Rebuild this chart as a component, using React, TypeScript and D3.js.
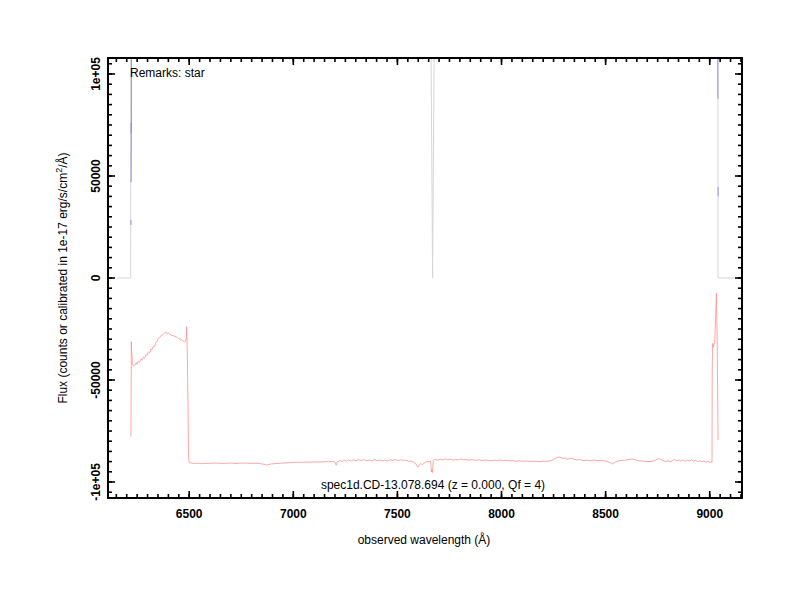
import React, { useRef, useEffect } from 'react';
import * as d3 from 'd3';

type Pt = [number, number | null];

// red: flux spectrum (calibrated)
const redSeries: Pt[] = [
  [6220, -77800], [6221, -60600], [6222, -31200], [6224, -36000], [6227, -42000],
  [6232, -43000], [6240, -42600], [6246, -41500], [6250, -42300], [6256, -40800],
  [6262, -41200], [6268, -39800], [6274, -40300], [6280, -38800], [6286, -39400],
  [6292, -37600], [6298, -37900], [6304, -36200], [6310, -36700], [6316, -34800],
  [6322, -35100], [6328, -33400], [6334, -33600], [6340, -31500], [6346, -31000],
  [6352, -29600], [6358, -29200], [6364, -28300], [6370, -28000], [6376, -27400],
  [6382, -26900], [6388, -26600], [6394, -27200], [6400, -27000], [6406, -27600],
  [6412, -27900], [6418, -28300], [6424, -28100], [6430, -28800], [6436, -28700],
  [6442, -29300], [6448, -29500], [6454, -30000], [6460, -29800], [6466, -30600],
  [6472, -30900], [6478, -31200], [6482, -31000], [6486, -29500], [6488, -23900],
  [6490, -33000], [6491, -37700], [6494, -60000], [6497, -88000], [6500, -90500],
  [6505, -90600], [6520, -90900], [6540, -90800], [6560, -91000], [6580, -90900],
  [6600, -90800], [6620, -90700], [6640, -90800], [6660, -90900], [6680, -90800],
  [6700, -90700], [6720, -90900], [6740, -90800], [6760, -90700], [6780, -90800],
  [6800, -90900], [6820, -90800], [6840, -91000], [6860, -91300], [6875, -91700],
  [6890, -91200], [6910, -91000], [6930, -90900], [6950, -90700], [6970, -90600],
  [6990, -90500], [7010, -90400], [7030, -90300], [7050, -90400], [7070, -90200],
  [7090, -90300], [7110, -90100], [7130, -90200], [7150, -90000], [7170, -90100],
  [7190, -89900], [7200, -90300], [7206, -91800], [7212, -90000], [7225, -89500],
  [7235, -89900], [7245, -89300], [7255, -89800], [7265, -89200], [7278, -89700],
  [7290, -89100], [7302, -89600], [7315, -89000], [7328, -89500], [7340, -89100],
  [7352, -89600], [7365, -89200], [7378, -89700], [7390, -89000], [7402, -89500],
  [7415, -89200], [7428, -89600], [7440, -89300], [7452, -89700], [7465, -89100],
  [7478, -89400], [7490, -89000], [7502, -89500], [7515, -89100], [7528, -89400],
  [7540, -89300], [7555, -89800], [7568, -89900], [7580, -90300], [7590, -91400],
  [7598, -92700], [7604, -92000], [7612, -90900], [7620, -91500], [7628, -90800],
  [7636, -90300], [7644, -90000], [7652, -90100], [7660, -89800], [7663, -95100],
  [7666, -94000], [7669, -95300], [7672, -89400], [7680, -88900], [7692, -89300],
  [7705, -88800], [7718, -89200], [7730, -88700], [7742, -89100], [7755, -88800],
  [7768, -89300], [7780, -88900], [7792, -89200], [7805, -88700], [7818, -89100],
  [7830, -89000], [7845, -89300], [7860, -89000], [7875, -89400], [7890, -89100],
  [7905, -89500], [7920, -89200], [7935, -89400], [7950, -89600], [7965, -89300],
  [7980, -89500], [7995, -89200], [8010, -89600], [8025, -89400], [8040, -89700],
  [8055, -89500], [8070, -89800], [8088, -89600], [8105, -89900], [8120, -89700],
  [8140, -89900], [8160, -89800], [8180, -90000], [8200, -89800], [8220, -89900],
  [8240, -89500], [8255, -88600], [8268, -88000], [8280, -87700], [8292, -88400],
  [8305, -88200], [8318, -88900], [8332, -88300], [8345, -88700], [8360, -89200],
  [8376, -89000], [8392, -89500], [8410, -89300], [8428, -89600], [8445, -89200],
  [8462, -89500], [8480, -89400], [8500, -89800], [8520, -90400], [8534, -91200],
  [8548, -90100], [8565, -89600], [8582, -89400], [8600, -89200], [8618, -88900],
  [8630, -88700], [8645, -89200], [8660, -89600], [8680, -89800], [8700, -90000],
  [8718, -89900], [8735, -89500], [8748, -88800], [8760, -88700], [8772, -89300],
  [8785, -89900], [8800, -89600], [8812, -90100], [8822, -89400], [8832, -88900],
  [8842, -89600], [8852, -89100], [8862, -89800], [8872, -89200], [8882, -89900],
  [8892, -89300], [8902, -89700], [8912, -89100], [8922, -89800], [8932, -89400],
  [8942, -90000], [8952, -89500], [8962, -90100], [8972, -89700], [8982, -90300],
  [8992, -89900], [9002, -90400], [9008, -90100], [9011, -90300], [9012, -45000],
  [9014, -32000], [9017, -34000], [9020, -32800], [9024, -31500], [9028, -20000],
  [9032, -7500], [9036, -31200], [9040, -79400],
];

// blue: raw counts, mostly off the top of the panel
const blueSeries: Pt[] = [
  [6220.2, 26000], [6220.4, 28500], [6220.6, null],
  [6221.0, 47000], [6221.4, 62000], [6221.8, 76000], [6222.2, 71000], [6222.8, 180000],
  [9038.0, 180000], [9039.0, 100500], [9039.4, 88000], [9039.6, null],
  [9040.0, 44500], [9040.3, 40000],
];

// grey: sky / variance, clipped at the top
const greySeries: Pt[] = [
  [6153, 0], [6219, 0], [6221, 350000], [7659, 350000], [7661, 120000],
  [7669, 0], [7677, 120000], [7679, 350000], [9038, 350000], [9040, 0], [9120, 0],
];

const xMajor = [6500, 7000, 7500, 8000, 8500, 9000];
const yMajor = [-100000, -50000, 0, 50000, 100000];
const yTickLabels = ['-1e+05', '-50000', '0', '50000', '1e+05'];
const xMinor = d3.range(6150, 9151, 50);
const yMinor = d3.range(-105000, 105001, 5000);

const specLabel = 'spec1d.CD-13.078.694 (z = 0.000, Qf = 4)';
const remarks = 'Remarks: star';

const D3Spectrum: React.FC = () => {
  const svgRef = useRef<SVGSVGElement>(null);

  useEffect(() => {
    if (!svgRef.current) return;
    const root = d3.select(svgRef.current);
    root.selectAll('*').remove();

    const width = 800;
    const height = 600;
    const left = 108, right = 742, top = 58, bottom = 498;
    const font = '"Liberation Sans", Arial, Helvetica, sans-serif';

    root.attr('width', width).attr('height', height);

    const xScale = d3.scaleLinear().domain([6110, 9155]).range([left, right]);
    const yScale = d3.scaleLinear().domain([-107843, 107843]).range([bottom, top]);

    root
      .append('defs')
      .append('clipPath')
      .attr('id', 'plot-clip')
      .append('rect')
      .attr('x', left)
      .attr('y', top)
      .attr('width', right - left)
      .attr('height', bottom - top);

    const line = d3
      .line<Pt>()
      .defined((d) => d[1] !== null)
      .x((d) => xScale(d[0]))
      .y((d) => yScale(d[1] as number));

    const plot = root.append('g').attr('clip-path', 'url(#plot-clip)');

    plot
      .append('path')
      .datum(greySeries)
      .attr('fill', 'none')
      .attr('stroke', '#d6d6d6')
      .attr('stroke-width', 1)
      .attr('d', line);

    plot
      .append('path')
      .datum(blueSeries)
      .attr('fill', 'none')
      .attr('stroke', '#8f8fec')
      .attr('stroke-width', 1)
      .attr('d', line);

    plot
      .append('path')
      .datum(redSeries)
      .attr('fill', 'none')
      .attr('stroke', '#ff8f8f')
      .attr('stroke-width', 0.8)
      .attr('d', line);

    // ticks on all four sides, pointing inward
    const tickGroup = root.append('g').attr('stroke', '#000').attr('stroke-width', 1.6);
    const addX = (vals: number[], len: number) => {
      vals.forEach((v) => {
        const x = xScale(v);
        tickGroup.append('line').attr('x1', x).attr('x2', x).attr('y1', bottom).attr('y2', bottom - len);
        tickGroup.append('line').attr('x1', x).attr('x2', x).attr('y1', top).attr('y2', top + len);
      });
    };
    const addY = (vals: number[], len: number) => {
      vals.forEach((v) => {
        const y = yScale(v);
        tickGroup.append('line').attr('x1', left).attr('x2', left + len).attr('y1', y).attr('y2', y);
        tickGroup.append('line').attr('x1', right).attr('x2', right - len).attr('y1', y).attr('y2', y);
      });
    };
    addX(xMinor, 4);
    addX(xMajor, 7);
    addY(yMinor, 4);
    addY(yMajor, 7);

    // frame
    root
      .append('rect')
      .attr('x', left)
      .attr('y', top)
      .attr('width', right - left)
      .attr('height', bottom - top)
      .attr('fill', 'none')
      .attr('stroke', '#000')
      .attr('stroke-width', 2);

    // tick labels
    root
      .selectAll('.xlab')
      .data(xMajor)
      .enter()
      .append('text')
      .attr('class', 'xlab')
      .attr('x', (d) => xScale(d))
      .attr('y', 518)
      .attr('text-anchor', 'middle')
      .attr('font-family', font)
      .attr('font-weight', 'bold')
      .attr('font-size', 12)
      .text((d) => String(d));

    root
      .selectAll('.ylab')
      .data(yMajor)
      .enter()
      .append('text')
      .attr('class', 'ylab')
      .attr('transform', (d) => `translate(100,${yScale(d)}) rotate(-90)`)
      .attr('text-anchor', 'middle')
      .attr('font-family', font)
      .attr('font-weight', 'bold')
      .attr('font-size', 12)
      .text((_, i) => yTickLabels[i]);

    // axis titles
    root
      .append('text')
      .attr('x', 424)
      .attr('y', 544)
      .attr('text-anchor', 'middle')
      .attr('font-family', font)
      .attr('font-size', 12)
      .text('observed wavelength (Å)');

    const yTitle = root
      .append('text')
      .attr('transform', `translate(67,${(top + bottom) / 2}) rotate(-90)`)
      .attr('text-anchor', 'middle')
      .attr('font-family', font)
      .attr('font-size', 12);
    yTitle.append('tspan').text('Flux (counts or calibrated in 1e-17 erg/s/cm');
    yTitle.append('tspan').attr('dy', -5).attr('font-size', 9).text('2');
    yTitle.append('tspan').attr('dy', 5).text('/Å)');

    // annotations inside panel
    root
      .append('text')
      .attr('x', 433)
      .attr('y', 489)
      .attr('text-anchor', 'middle')
      .attr('font-family', font)
      .attr('font-size', 12)
      .text(specLabel);

    root
      .append('text')
      .attr('x', 130)
      .attr('y', 77)
      .attr('font-family', font)
      .attr('font-size', 12)
      .text(remarks);
  }, []);

  return <svg ref={svgRef} style={{ position: 'absolute', left: 0, top: 0, background: '#fff' }}></svg>;
};

export default function App() {
  return <D3Spectrum />;
}
